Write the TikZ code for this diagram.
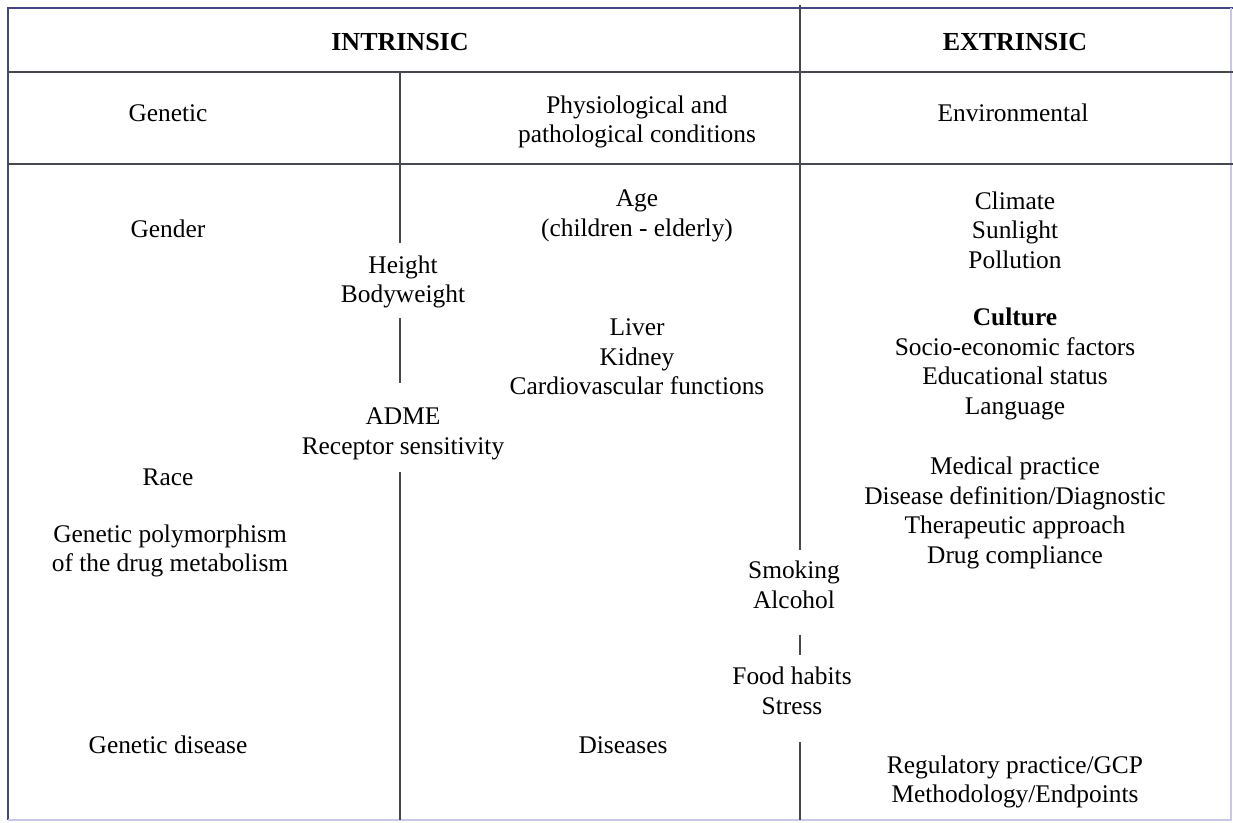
\documentclass[tikz,border=0pt]{standalone}
\usepackage{fontspec}
\setmainfont{Liberation Serif}
\usepackage{xcolor}
\usepackage{tikz}
\usetikzlibrary{positioning,calc}

\definecolor{rulegray}{RGB}{70,72,80}
\definecolor{edgeblue}{RGB}{70,70,130}
\definecolor{faintblue}{RGB}{200,200,230}

\tikzset{
  cell/.style={align=center,inner sep=1pt,yshift=-1.5pt,font=\fontsize{12.7}{14.8}\selectfont},
  head/.style={cell,yshift=1.5pt,font=\fontsize{13}{15}\selectfont\bfseries},
  rule/.style={draw=rulegray,line width=1.2pt},
}

\begin{document}
\begin{tikzpicture}[x=0.5pt,y=-0.5pt]
    \useasboundingbox (0,0) rectangle (1233,823);
    % outer frame
    \draw[draw=edgeblue,line width=1.2pt] (8,820) -- (8,8) -- (1233,8);
    \draw[draw=faintblue,line width=1pt] (8,820) -- (1231,820) -- (1231,8);
    % header rules
    \foreach \y in {72,164} {
      \draw[rule] (8,\y) -- (1233,\y);
    }
    % column rules, broken where the text sits
    \foreach \a/\b in {72/243,318/383,472/820} {
      \draw[rule] (400,\a) -- (400,\b);
    }
    \foreach \a/\b in {5/550,635/655,742/820} {
      \draw[rule] (800,\a) -- (800,\b);
    }
    % headings
    \node[head] (intr) at (400,42) {INTRINSIC};
    \node[head] (extr) at (1015,42) {EXTRINSIC};
    \node[cell] (genetic) at (168,110) {Genetic};
    \node[cell] (physio) at (637,119) {Physiological and\\pathological conditions};
    \node[cell] (envir) at (1013,110) {Environmental};
    % genetic column
    \node[cell] (gender) at (168,226) {Gender};
    \node[cell] (race) at (168,474) {Race};
    \node[cell] (poly) at (170,548) {Genetic polymorphism\\of the drug metabolism};
    \node[cell] (gendis) at (168,742) {Genetic disease};
    % on the genetic/physiological border
    \node[cell] (height) at (403,279) {Height\\Bodyweight};
    \node[cell] (adme) at (403,431) {ADME\\Receptor sensitivity};
    % physiological column
    \node[cell] (age) at (637,213) {Age\\(children - elderly)};
    \node[cell] (organs) at (637,354) {Liver\\Kidney\\Cardiovascular functions};
    \node[cell] (dis) at (623,742) {Diseases};
    % on the intrinsic/extrinsic border
    \node[cell] (smoke) at (794,582) {Smoking\\Alcohol};
    \node[cell] (food) at (792,688) {Food habits\\Stress};
    % environmental column
    \node[cell] (climate) at (1015,227) {Climate\\Sunlight\\Pollution};
    \node[cell] (culture) at (1015,361) {\textbf{Culture}\\Socio-economic factors\\Educational status\\Language};
    \node[cell] (medical) at (1015,510) {Medical practice\\Disease definition/Diagnostic\\Therapeutic approach\\Drug compliance};
    \node[cell] (regul) at (1015,779) {Regulatory practice/GCP\\Methodology/Endpoints};
\end{tikzpicture}
\end{document}
